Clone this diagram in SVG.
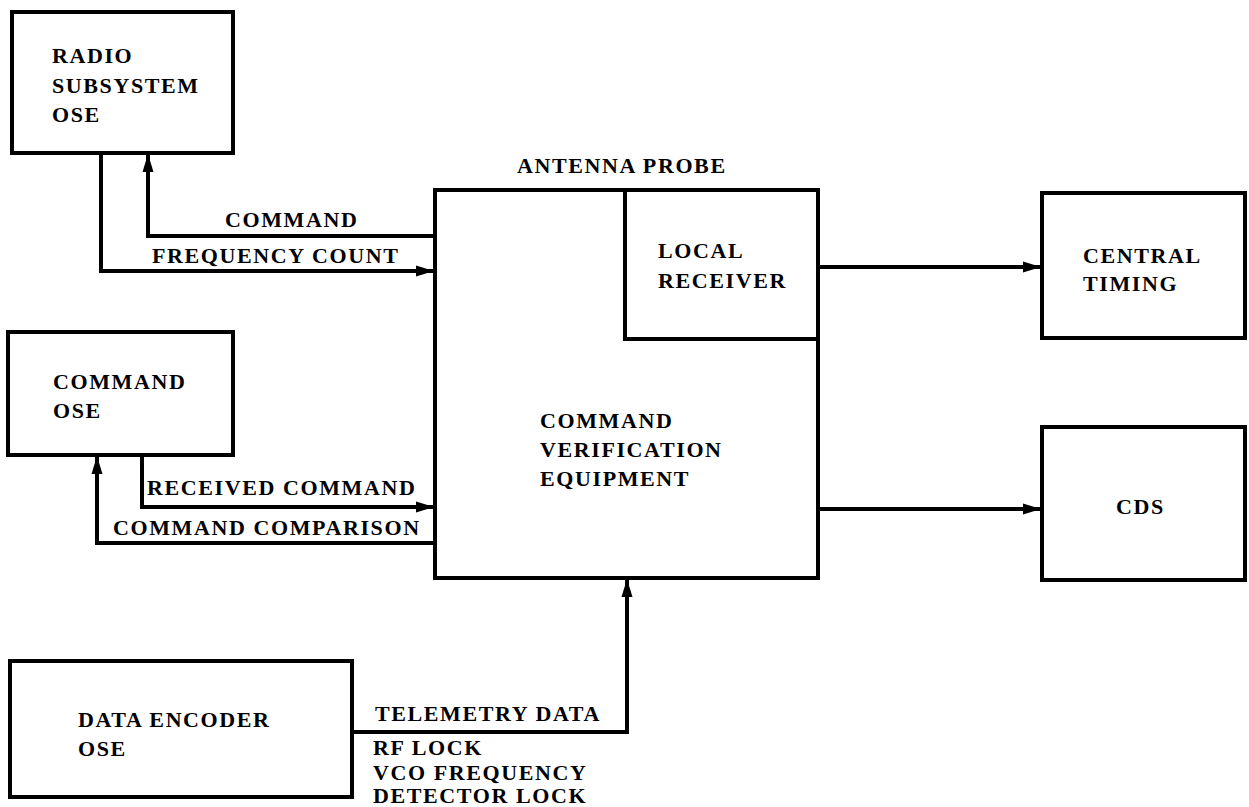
<svg xmlns="http://www.w3.org/2000/svg" width="1249" height="807" viewBox="0 0 1249 807">
<style>
.box{fill:none;stroke:#000;stroke-width:4;stroke-linejoin:miter}
.ln{fill:none;stroke:#000;stroke-width:4;stroke-linejoin:miter}
text{font-family:"Liberation Serif","Times New Roman",serif;font-size:22px;font-weight:bold;letter-spacing:1.6px;fill:#000}
</style>
<defs>
<marker id="ah" markerUnits="userSpaceOnUse" markerWidth="18" markerHeight="12" refX="17" refY="6" orient="auto">
<path d="M0,0.5 L18,6 L0,11.5 z" fill="#000"/>
</marker>
</defs>
<rect width="1249" height="807" fill="#fff"/>
<g id="radio-ose">
<rect class="box" x="12" y="12" width="221" height="141"/>
<text x="52" y="63">RADIO</text>
<text x="52" y="93">SUBSYSTEM</text>
<text x="52" y="122">OSE</text>
</g>
<g id="command-ose">
<rect class="box" x="8" y="332" width="225" height="123"/>
<text x="53" y="389">COMMAND</text>
<text x="53" y="418">OSE</text>
</g>
<g id="data-encoder-ose">
<rect class="box" x="10" y="661" width="342" height="136"/>
<text x="78" y="727">DATA ENCODER</text>
<text x="78" y="756">OSE</text>
</g>
<g id="command-verification">
<rect class="box" x="435" y="190" width="383" height="388"/>
<text x="540" y="428">COMMAND</text>
<text x="540" y="457">VERIFICATION</text>
<text x="540" y="486">EQUIPMENT</text>
<text x="517" y="173">ANTENNA PROBE</text>
</g>
<g id="local-receiver">
<polyline class="box" points="625,190 625,339 818,339"/>
<text x="658" y="258">LOCAL</text>
<text x="658" y="288">RECEIVER</text>
</g>
<g id="central-timing">
<rect class="box" x="1042" y="193" width="203" height="145"/>
<text x="1083" y="263">CENTRAL</text>
<text x="1083" y="291">TIMING</text>
</g>
<g id="cds">
<rect class="box" x="1042" y="427" width="203" height="153"/>
<text x="1116" y="514">CDS</text>
</g>
<g id="connectors">
<polyline class="ln" points="433,236 148,236 148,155" marker-end="url(#ah)"/>
<polyline class="ln" points="101,153 101,271 433,271" marker-end="url(#ah)"/>
<polyline class="ln" points="142,455 142,507 433,507" marker-end="url(#ah)"/>
<polyline class="ln" points="433,543 97,543 97,457" marker-end="url(#ah)"/>
<polyline class="ln" points="352,732 627,732 627,580" marker-end="url(#ah)"/>
<line class="ln" x1="818" y1="267" x2="1040" y2="267" marker-end="url(#ah)"/>
<line class="ln" x1="818" y1="509" x2="1040" y2="509" marker-end="url(#ah)"/>
<text x="225" y="227">COMMAND</text>
<text x="152" y="263">FREQUENCY COUNT</text>
<text x="147" y="495">RECEIVED COMMAND</text>
<text x="113" y="535">COMMAND COMPARISON</text>
<text x="375" y="721">TELEMETRY DATA</text>
<text x="373" y="755">RF LOCK</text>
<text x="373" y="780">VCO FREQUENCY</text>
<text x="373" y="803">DETECTOR LOCK</text>
</g>
</svg>
